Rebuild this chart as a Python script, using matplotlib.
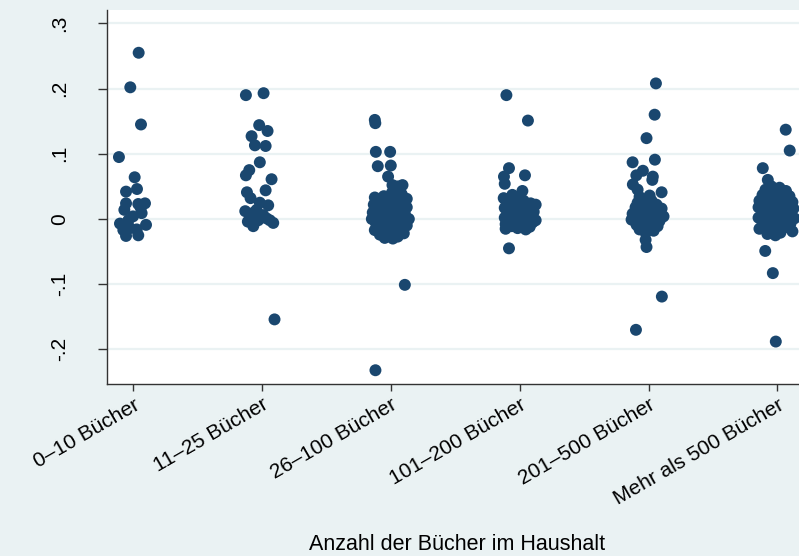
import matplotlib
matplotlib.use("Agg")
import matplotlib.pyplot as plt
import numpy as np

plt.rcParams['font.family'] = ['Liberation Sans', 'DejaVu Sans']

categories = ["0–10 Bücher", "11–25 Bücher", "26–100 Bücher",
              "101–200 Bücher", "201–500 Bücher", "Mehr als 500 Bücher"]

# y values per group and horizontal jitter (in category units)
vals_1 = [0.255, 0.202, 0.145, 0.095, 0.064, 0.046, 0.042, 0.024, 0.024, 0.023,
          0.014, 0.009, -0.002, -0.007, -0.009, -0.014, -0.017, -0.016, -0.026, -0.025,
          0.004, 0.017]
jit_1 = [0.044, -0.021, 0.062, -0.109, 0.013, 0.031, -0.054, -0.054, 0.093, 0.041,
         -0.067, 0.067, -0.036, -0.101, 0.101, -0.023, -0.075, 0.029, -0.054, 0.041,
         0.000, 0.060]

vals_2 = [0.190, 0.193, 0.144, 0.135, 0.127, 0.113, 0.112, 0.087, 0.075, 0.067,
          0.061, 0.044, 0.041, 0.032, 0.025, 0.021, 0.012, 0.014, 0.004, 0.006,
          -0.006, -0.011, 0.001, -0.002, -0.002, -0.154, 0.010, -0.004]
jit_2 = [-0.124, 0.013, -0.021, 0.044, -0.080, -0.054, 0.029, -0.016, -0.098, -0.124,
         0.075, 0.029, -0.116, -0.088, -0.016, 0.049, -0.129, -0.041, -0.093, 0.010,
         0.088, -0.067, 0.036, -0.029, 0.062, 0.098, -0.062, -0.109]

vals_3 = [0.152, 0.147, 0.103, 0.103, 0.081, 0.082, 0.065, 0.052, 0.052, 0.050,
          0.035, 0.033, 0.030, 0.028, 0.027, 0.025, 0.022, 0.020, 0.019, 0.018,
          0.015, 0.014, 0.012, 0.010, 0.009, 0.008, 0.006, 0.004, 0.003, 0.002,
          0.000, 0.000, -0.001, -0.002, -0.004, -0.006, -0.007, -0.009, -0.010, -0.012,
          -0.013, -0.015, -0.017, -0.018, -0.020, -0.022, -0.024, -0.025, -0.027, -0.029,
          -0.030, 0.040, 0.044, 0.038, 0.031, 0.016, -0.005, 0.011, -0.101, -0.232]
jit_3 = [-0.124, -0.120, -0.116, -0.005, -0.101, 0.000, -0.021, 0.013, 0.091, 0.054,
         -0.054, -0.124, 0.039, -0.085, -0.016, 0.093, -0.132, -0.047, 0.023, 0.124,
         -0.101, -0.008, 0.062, -0.140, -0.054, 0.109, 0.016, -0.101, -0.031, 0.070,
         -0.147, 0.140, -0.070, 0.016, 0.093, -0.116, -0.023, 0.047, 0.124, -0.085,
         0.000, 0.078, -0.124, -0.039, 0.031, 0.101, -0.085, -0.008, 0.054, -0.047,
         0.016, 0.008, 0.054, 0.085, 0.124, -0.070, 0.054, 0.031, 0.109, -0.119]

vals_4 = [0.190, 0.151, 0.078, 0.067, 0.065, 0.054, 0.043, 0.037, 0.032,
          0.030, 0.028, 0.026, 0.024, 0.021, 0.019, 0.017, 0.015, 0.013, 0.011,
          0.009, 0.008, 0.006, 0.004, 0.002, 0.001, -0.001, -0.003, -0.005, -0.006,
          -0.008, -0.009, -0.011, -0.012, -0.014, -0.015, -0.016, 0.022, -0.002, -0.045]
jit_4 = [-0.103, 0.064, -0.083, 0.041, -0.122, -0.116, 0.021, -0.057, -0.124,
         -0.031, 0.031, -0.101, 0.085, -0.062, 0.000, -0.116, 0.062, -0.039, 0.109,
         -0.093, 0.016, -0.054, 0.078, -0.116, -0.016, 0.039, -0.078, 0.101, -0.031,
         -0.109, 0.023, -0.062, 0.078, -0.016, -0.109, 0.047, 0.124, 0.124, -0.083]

vals_5 = [0.208, 0.160, 0.124, 0.091, 0.087, 0.074, 0.067, 0.065, 0.060, 0.053,
          0.041, 0.034, 0.030, 0.028, 0.025, 0.022, 0.020, 0.018, 0.016, 0.014,
          0.012, 0.010, 0.008, 0.006, 0.004, 0.002, 0.001, -0.001, -0.003, -0.005,
          -0.007, -0.009, -0.011, -0.013, -0.016, -0.018, -0.021, 0.036, 0.045,
          -0.032, -0.043, -0.119, -0.170]
jit_5 = [0.057, 0.047, -0.016, 0.049, -0.124, -0.044, -0.095, 0.033, 0.029, -0.122,
         0.101, -0.070, -0.031, 0.023, -0.085, 0.062, -0.023, -0.101, 0.101, 0.008,
         -0.062, 0.062, -0.124, -0.023, 0.116, -0.085, 0.031, -0.132, 0.085, -0.039,
         0.023, -0.093, 0.070, -0.023, -0.070, 0.039, -0.023, 0.008, -0.085,
         -0.023, -0.016, 0.103, -0.098]

vals_6 = [0.137, 0.105, 0.078, 0.060, 0.050, 0.048, 0.045, 0.043, 0.040, 0.037,
          0.035, 0.033, 0.031, 0.028, 0.026, 0.024, 0.022, 0.020, 0.018, 0.016,
          0.014, 0.012, 0.010, 0.008, 0.006, 0.004, 0.002, 0.001, -0.001, -0.003,
          -0.005, -0.007, -0.009, -0.011, -0.013, -0.015, -0.017, -0.019, -0.021, -0.023,
          -0.025, -0.049, -0.083, -0.188]
jit_6 = [0.064, 0.095, -0.114, -0.075, -0.047, 0.016, -0.093, 0.066, -0.023, -0.116,
         0.093, -0.062, 0.023, -0.140, 0.116, -0.016, -0.085, 0.054, -0.147, 0.124,
         -0.047, 0.023, -0.116, 0.085, -0.078, -0.008, -0.147, 0.132, 0.047, -0.062,
         -0.116, 0.101, -0.008, -0.093, 0.054, -0.140, -0.039, 0.116, 0.023, -0.078,
         -0.016, -0.095, -0.036, -0.013]

group_vals = [vals_1, vals_2, vals_3, vals_4, vals_5, vals_6]
group_jit = [jit_1, jit_2, jit_3, jit_4, jit_5, jit_6]

yticks = [-0.2, -0.1, 0, 0.1, 0.2, 0.3]
ytick_labels = ["-.2", "-.1", "0", ".1", ".2", ".3"]

BG = "#EAF2F3"
NAVY = "#1A476F"

fig = plt.figure(figsize=(7.99, 5.56), dpi=100, facecolor=BG)
ax = fig.add_axes([106.7 / 799, 172 / 556, (803 - 106.7) / 799, 374 / 556])
ax.set_facecolor("white")

for i, (v, j) in enumerate(zip(group_vals, group_jit)):
    x = (i + 1) + np.asarray(j)
    ax.scatter(x, v, s=74, color=NAVY, edgecolors="none", zorder=3)

ax.set_xlim(0.796, 6.198)
ax.set_ylim(-0.2531, 0.3206)

ax.set_yticks(yticks)
ax.set_yticklabels(ytick_labels, rotation=90, va="center", fontsize=15)
ax.set_xticks(range(1, 7))
ax.set_xticklabels(categories, rotation=30, ha="right", rotation_mode="anchor",
                   fontsize=15)

ax.grid(axis="y", color=BG, linewidth=1.6, zorder=0)
ax.grid(axis="x", visible=False)
for side in ["top", "right"]:
    ax.spines[side].set_visible(False)
for side in ["left", "bottom"]:
    ax.spines[side].set_color("#333333")
    ax.spines[side].set_linewidth(1.0)
ax.tick_params(axis="x", color="#333333", length=5, width=1.0, pad=3)
ax.tick_params(axis="y", color="#333333", length=6.5, width=1.0, pad=20.5)

fig.text(457 / 799, 1 - 545 / 556, "Anzahl der Bücher im Haushalt",
         ha="center", va="center", fontsize=15.5)

fig.savefig("out.png", dpi=100, facecolor=BG)
